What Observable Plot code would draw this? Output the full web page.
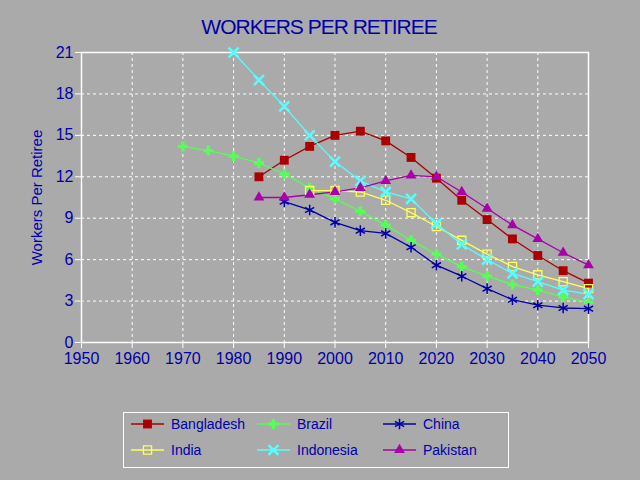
<!DOCTYPE html>
<html>
<head>
<meta charset="utf-8">
<script src="https://cdn.jsdelivr.net/npm/d3@7"></script>
<script src="https://cdn.jsdelivr.net/npm/@observablehq/plot@0.6"></script>
<style>
  html, body { margin: 0; padding: 0; background: #aaaaaa; }
  #wrap { position: relative; width: 640px; height: 480px; background: #aaaaaa; overflow: hidden; font-family: "Liberation Sans", Arial, sans-serif; }
  #title { position: absolute; left: 0; width: 638px; top: 16px; text-align: center; font-size: 21px; line-height: 21px; letter-spacing: -1px; color: #0000aa; }
  #chart { position: absolute; left: 0; top: 0; }
  #chart svg [aria-label="y-axis label"] text { font-size: 15px; }
  #legend { position: absolute; left: 123px; top: 412px; width: 384px; height: 54px; border: 1px solid #ffffff; }
  .item { position: absolute; height: 20px; display: flex; align-items: center; font-size: 14px; color: #0000aa; white-space: nowrap; }
  .item svg { display: block; margin-right: 7px; }
</style>
</head>
<body>
<div id="wrap">
  <div id="chart"></div>
  <div id="title">WORKERS PER RETIREE</div>
  <div id="legend"></div>
</div>
<script>
const years = [1970, 1975, 1980, 1985, 1990, 1995, 2000, 2005, 2010, 2015, 2020, 2025, 2030, 2035, 2040, 2045, 2050];
const countries = ["Bangladesh", "Brazil", "China", "India", "Indonesia", "Pakistan"];
const bangladesh = [null, null, null, 12.0, 13.2, 14.2, 15.0, 15.3, 14.6, 13.4, 11.9, 10.3, 8.9, 7.5, 6.3, 5.2, 4.3];
const brazil     = [14.2, 13.9, 13.5, 13.0, 12.2, 11.2, 10.4, 9.5, 8.5, 7.4, 6.4, 5.5, 4.8, 4.2, 3.8, 3.3, 2.9];
const china      = [null, null, null, null, 10.2, 9.6, 8.7, 8.1, 7.9, 6.9, 5.6, 4.8, 3.9, 3.1, 2.7, 2.5, 2.45];
const india      = [null, null, null, null, null, 11.0, 11.0, 10.9, 10.3, 9.4, 8.4, 7.4, 6.4, 5.5, 4.9, 4.4, 3.9];
const indonesia  = [null, null, 21.0, 19.0, 17.1, 15.0, 13.1, 11.7, 10.9, 10.4, 8.6, 7.1, 6.0, 5.0, 4.4, 3.8, 3.5];
const pakistan   = [null, null, null, 10.5, 10.5, 10.7, 10.9, 11.2, 11.7, 12.1, 12.0, 10.9, 9.7, 8.5, 7.5, 6.5, 5.6];
const seriesValues = [bangladesh, brazil, china, india, indonesia, pakistan];
const xTicks = [1950, 1960, 1970, 1980, 1990, 2000, 2010, 2020, 2030, 2040, 2050];
const yTicks = [0, 3, 6, 9, 12, 15, 18, 21];

// styles (kept separate from data)
const colors = ["#aa0000", "#55ff55", "#0000aa", "#ffff55", "#55ffff", "#aa00aa"];
const styles = [
  {symbol: "square",   r: 5.0, fill: colors[0], stroke: "none", sw: 0},
  {symbol: "cross",    r: 4.2, fill: colors[1], stroke: "none", sw: 0},
  {symbol: "asterisk", r: 5.0, fill: "none", stroke: colors[2], sw: 1.5},
  {symbol: "square",   r: 4.6, fill: "none", stroke: colors[3], sw: 1.3},
  {symbol: "times",    r: 4.6, fill: "none", stroke: colors[4], sw: 2.5},
  {symbol: "triangle", r: 4.0, fill: colors[5], stroke: "none", sw: 0}
];

const rows = [];
countries.forEach((c, i) => {
  seriesValues[i].forEach((v, j) => { if (v != null) rows.push({country: c, year: years[j], value: v}); });
});

const textColor = "#0000aa";
const marks = [
  Plot.gridX(xTicks, {stroke: "white", strokeOpacity: 1, strokeDasharray: "3,3", strokeWidth: 1}),
  Plot.gridY(yTicks, {stroke: "white", strokeOpacity: 1, strokeDasharray: "3,3", strokeWidth: 1}),
  Plot.frame({stroke: "white", strokeWidth: 1.5}),
  Plot.axisX({ticks: xTicks, tickFormat: d => String(d), tickSize: 6, tickPadding: 4, stroke: "white", fill: textColor, label: null, fontSize: 16}),
  Plot.axisY({ticks: yTicks, tickSize: 6, tickPadding: 2, stroke: "white", fill: textColor, label: "Workers Per Retiree", labelAnchor: "center", labelArrow: false, labelOffset: 50, fontSize: 16}),
  Plot.line(rows, {x: "year", y: "value", z: "country", stroke: "country", strokeWidth: 1.3})
];
countries.forEach((c, i) => {
  const s = styles[i];
  marks.push(Plot.dot(rows.filter(d => d.country === c), {
    x: "year", y: "value", symbol: () => s.symbol, r: s.r,
    fill: s.fill, stroke: s.stroke, strokeWidth: s.sw
  }));
});

const chart = Plot.plot({
  width: 640, height: 480,
  marginLeft: 81, marginRight: 52, marginTop: 52, marginBottom: 138,
  style: {background: "transparent", fontFamily: "Liberation Sans, Arial, sans-serif", fontSize: "16px", color: textColor},
  x: {domain: [1950, 2050]},
  y: {domain: [0, 21]},
  color: {domain: countries, range: colors},
  symbol: {domain: ["square", "cross", "asterisk", "times", "triangle"], range: ["square", "cross", "asterisk", "times", "triangle"]},
  marks
});
document.getElementById("chart").appendChild(chart);

// legend
const legend = d3.select("#legend");
const colLeft = [7, 133, 259];
const rowTop = [1, 27];
countries.forEach((c, i) => {
  const s = styles[i];
  const item = legend.append("div").attr("class", "item")
    .style("left", colLeft[i % 3] + "px").style("top", rowTop[Math.floor(i / 3)] + "px");
  const svg = item.append("svg").attr("width", 33).attr("height", 20);
  svg.append("line").attr("x1", 0).attr("x2", 33).attr("y1", 10).attr("y2", 10)
    .attr("stroke", colors[i]).attr("stroke-width", 1.3);
  const symMap = {square: d3.symbolSquare, cross: d3.symbolCross, asterisk: d3.symbolAsterisk, times: d3.symbolTimes, triangle: d3.symbolTriangle};
  svg.append("path").attr("transform", "translate(16.5,10)")
    .attr("d", d3.symbol(symMap[s.symbol], Math.PI * s.r * s.r)())
    .attr("fill", s.fill).attr("stroke", s.stroke).attr("stroke-width", s.sw);
  item.append("span").text(c);
});
</script>
</body>
</html>
